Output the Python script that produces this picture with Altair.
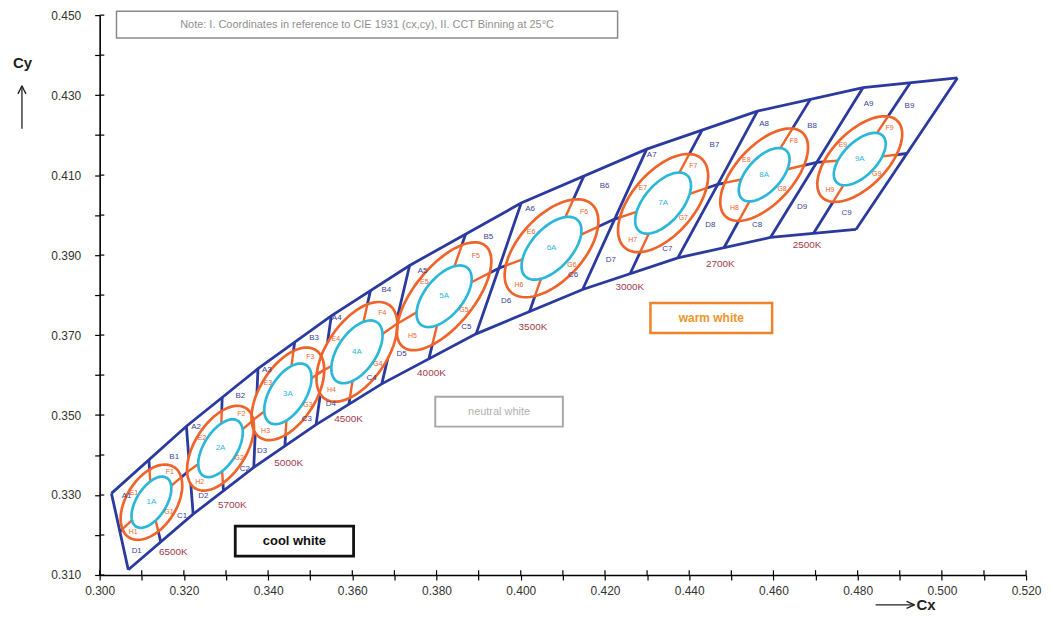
import numpy as np
import pandas as pd
import altair as alt

# ---------------- data ----------------
cct_names = ["6500K", "5700K", "5000K", "4500K", "4000K", "3500K", "3000K", "2700K", "2500K"]
bin_nums = [1, 2, 3, 4, 5, 6, 7, 8, 9]

# bin boundary isotherms (10 lines): top end, crossing with the centre line, bottom end
edge_top_x = [0.3028, 0.3206, 0.3376, 0.3550, 0.3736, 0.4001, 0.4299, 0.4562, 0.4813, 0.5037]
edge_top_y = [0.3304, 0.3472, 0.3616, 0.3748, 0.3874, 0.4030, 0.4165, 0.4260, 0.4319, 0.4343]
edge_mid_x = [0.3048, 0.3214, 0.3371, 0.3532, 0.3703, 0.3948, 0.4223, 0.4468, 0.4703, 0.4917]
edge_mid_y = [0.3209, 0.3362, 0.3493, 0.3612, 0.3726, 0.3867, 0.3990, 0.4077, 0.4132, 0.4154]
edge_bot_x = [0.3068, 0.3222, 0.3366, 0.3514, 0.3670, 0.3894, 0.4147, 0.4373, 0.4593, 0.4796]
edge_bot_y = [0.3113, 0.3252, 0.3369, 0.3476, 0.3578, 0.3703, 0.3814, 0.3893, 0.3944, 0.3964]

# bin centres and the dividing isotherm (A|B, D|C) of each bin
center_x = [0.3123, 0.3287, 0.3447, 0.3611, 0.3818, 0.4073, 0.4338, 0.4578, 0.4805]
center_y = [0.3282, 0.3417, 0.3553, 0.3658, 0.3797, 0.3917, 0.4030, 0.4101, 0.4140]
div_top_x = [0.3117, 0.3291, 0.3463, 0.3643, 0.3869, 0.4150, 0.4431, 0.4688, 0.4925]
div_top_y = [0.3388, 0.3544, 0.3682, 0.3811, 0.3952, 0.4098, 0.4213, 0.4290, 0.4331]
div_bot_x = [0.3145, 0.3294, 0.3440, 0.3592, 0.3782, 0.4021, 0.4260, 0.4483, 0.4695]
div_bot_y = [0.3183, 0.3311, 0.3423, 0.3527, 0.3641, 0.3759, 0.3854, 0.3919, 0.3954]

# ellipses (semi axes in CIE units, tilt in degrees)
orange_a = [0.0103, 0.0117, 0.0128, 0.0140, 0.0160, 0.0146, 0.0144, 0.0139, 0.0131]
orange_b = [0.0060, 0.0062, 0.0067, 0.0072, 0.0072, 0.0078, 0.0076, 0.0070, 0.0067]
cyan_a = [0.0071, 0.0080, 0.0084, 0.0088, 0.0090, 0.0094, 0.0090, 0.0080, 0.0080]
cyan_b = [0.0036, 0.0040, 0.0043, 0.0046, 0.0046, 0.0049, 0.0046, 0.0041, 0.0041]
ell_tilt = [60, 60, 60, 58, 53, 50, 52, 50, 48]

# sub-bin label positions
lab_A_x = [0.3064, 0.3229, 0.3397, 0.3563, 0.3767, 0.4022, 0.4311, 0.4578, 0.4826]
lab_A_y = [0.3297, 0.3469, 0.3613, 0.3743, 0.3860, 0.4014, 0.4151, 0.4228, 0.4278]
lab_B_x = [0.3177, 0.3334, 0.3509, 0.3681, 0.3923, 0.4199, 0.4460, 0.4692, 0.4923]
lab_B_y = [0.3394, 0.3548, 0.3693, 0.3812, 0.3944, 0.4072, 0.4176, 0.4223, 0.4273]
lab_C_x = [0.3196, 0.3345, 0.3492, 0.3646, 0.3871, 0.4124, 0.4348, 0.4561, 0.4774]
lab_C_y = [0.3248, 0.3365, 0.3491, 0.3593, 0.3720, 0.3850, 0.3915, 0.3974, 0.4004]
lab_D_x = [0.3088, 0.3246, 0.3386, 0.3549, 0.3717, 0.3965, 0.4214, 0.4450, 0.4668]
lab_D_y = [0.3160, 0.3297, 0.3411, 0.3528, 0.3653, 0.3785, 0.3887, 0.3974, 0.4019]

# CCT labels
cct_x = [0.3175, 0.3315, 0.3449, 0.3591, 0.3788, 0.4029, 0.4259, 0.4474, 0.4680]
cct_y = [0.3157, 0.3274, 0.3381, 0.3489, 0.3606, 0.3720, 0.3820, 0.3877, 0.3925]

# annotation boxes
box_text = ["Note: I. Coordinates in reference to CIE 1931 (cx,cy), II. CCT Binning at 25°C",
            "neutral white", "cool white", "warm white"]
box_x1 = [0.3040, 0.3797, 0.3322, 0.4308]
box_x2 = [0.4230, 0.4100, 0.3603, 0.4597]
box_y1 = [0.4510, 0.3546, 0.3222, 0.3780]
box_y2 = [0.4443, 0.3471, 0.3147, 0.3705]

x_ticks = [round(0.30 + 0.01 * i, 2) for i in range(23)]
y_ticks = [round(0.31 + 0.01 * i, 2) for i in range(15)]

# ---------------- styling ----------------
BLUE = "#2b3a9e"
ORANGE = "#ef642a"
CYAN = "#2bb8d8"
MAROON = "#a23a4c"
FONT = "Liberation Sans"

xs = alt.Scale(domain=[0.30, 0.52], nice=False, zero=False)
ys = alt.Scale(domain=[0.31, 0.45], nice=False, zero=False)

x_axis = alt.Axis(values=x_ticks, labelExpr="round(datum.value*100) % 2 == 0 ? format(datum.value, '.3f') : ''",
                  tickSize=5, tickWidth=1.2, tickColor="black", domainColor="black", domainWidth=1.6,
                  labelPadding=6, labelFont=FONT, labelFontSize=12, labelColor="#333", labelOverlap=False,
                  labelFlush=False, grid=False, title="Cx", titleFont=FONT, titleFontSize=15, titleFontWeight="bold",
                  titleColor="#222", titleAnchor="start", titleAlign="center", titleBaseline="middle",
                  titleX=829, titleY=30)
y_axis = alt.Axis(values=y_ticks, labelExpr="round(datum.value*100) % 2 == 1 ? format(datum.value, '.3f') : ''",
                  tickSize=5, tickWidth=1.2, tickColor="black", domainColor="black", domainWidth=1.6,
                  labelPadding=14, labelFont=FONT, labelFontSize=12, labelColor="#333", labelOverlap=False,
                  labelFlush=False, grid=False, title="Cy", titleFont=FONT, titleFontSize=15, titleFontWeight="bold",
                  titleColor="#222", titleAngle=0, titleAlign="center", titleBaseline="middle",
                  titleX=-78, titleY=48)


def X(f):
    return alt.X(f"{f}:Q", scale=xs, axis=x_axis)


def Y(f):
    return alt.Y(f"{f}:Q", scale=ys, axis=y_axis, stack=None)


# ---------------- build geometry tables ----------------
rows = []


def add_line(g, xx, yy):
    for i, (a, b) in enumerate(zip(xx, yy)):
        rows.append(dict(g=g, i=i, x=a, y=b))


add_line("top", edge_top_x, edge_top_y)
add_line("bot", edge_bot_x, edge_bot_y)
mx, my = [], []
for k in range(10):
    mx.append(edge_mid_x[k]); my.append(edge_mid_y[k])
    if k < 9:
        mx.append(center_x[k]); my.append(center_y[k])
add_line("mid", mx, my)
for k in range(10):
    add_line(f"e{k}", [edge_top_x[k], edge_mid_x[k], edge_bot_x[k]],
             [edge_top_y[k], edge_mid_y[k], edge_bot_y[k]])
for k in range(9):
    add_line(f"d{k}", [div_top_x[k], center_x[k], div_bot_x[k]],
             [div_top_y[k], center_y[k], div_bot_y[k]])
grid_df = pd.DataFrame(rows)


def outline(cx, cy, a, b, phi, n=90):
    p = np.radians(phi)
    c, s = np.cos(p), np.sin(p)
    t = np.linspace(0, 2 * np.pi, n)
    return cx + a * np.cos(t) * c - b * np.sin(t) * s, cy + a * np.cos(t) * s + b * np.sin(t) * c


def bounds(cx, cy, a, b, phi, n=80):
    p = np.radians(phi)
    c, s = np.cos(p), np.sin(p)
    A = c ** 2 / a ** 2 + s ** 2 / b ** 2
    B = 2 * c * s * (1 / a ** 2 - 1 / b ** 2)
    C = s ** 2 / a ** 2 + c ** 2 / b ** 2
    wx = np.sqrt(4 * C / (4 * A * C - B ** 2))
    dx = wx * np.cos(np.linspace(np.pi, 0, n))
    disc = np.clip(B ** 2 * dx ** 2 - 4 * C * (A * dx ** 2 - 1), 0, None)
    return cx + dx, cy + (-B * dx + np.sqrt(disc)) / (2 * C), cy + (-B * dx - np.sqrt(disc)) / (2 * C)


def ray(a, b, phi, dx, dy):
    p = np.radians(phi)
    c, s = np.cos(p), np.sin(p)
    u = c * dx + s * dy
    v = -s * dx + c * dy
    return 1.0 / np.sqrt((u / a) ** 2 + (v / b) ** 2)


fill_rows, o_rows, c_rows, tick_rows, ring_rows, ctr_rows = [], [], [], [], [], []
for k in range(9):
    cx, cy, ph = center_x[k], center_y[k], ell_tilt[k]
    bx, bu, bl = bounds(cx, cy, orange_a[k], orange_b[k], ph)
    for a, b, c in zip(bx, bu, bl):
        fill_rows.append(dict(g=k, x=a, yu=b, yl=c))
    ox, oy = outline(cx, cy, orange_a[k], orange_b[k], ph)
    for i, (a, b) in enumerate(zip(ox, oy)):
        o_rows.append(dict(g=k, i=i, x=a, y=b))
    qx, qy = outline(cx, cy, cyan_a[k], cyan_b[k], ph)
    for i, (a, b) in enumerate(zip(qx, qy)):
        c_rows.append(dict(g=k, i=i, x=a, y=b))
    targets = [(div_top_x[k], div_top_y[k]), (div_bot_x[k], div_bot_y[k]),
               (edge_mid_x[k], edge_mid_y[k]), (edge_mid_x[k + 1], edge_mid_y[k + 1])]
    for tx, ty in targets:
        dx, dy = tx - cx, ty - cy
        ti = ray(cyan_a[k], cyan_b[k], ph, dx, dy)
        to = ray(orange_a[k], orange_b[k], ph, dx, dy)
        tick_rows.append(dict(x=cx + ti * dx, y=cy + ti * dy, x2=cx + to * dx, y2=cy + to * dy))
    p = np.radians(ph)
    c, s = np.cos(p), np.sin(p)
    ma = (orange_a[k] + cyan_a[k]) / 2
    mb = (orange_b[k] + cyan_b[k]) / 2
    n = bin_nums[k]
    ring_rows += [
        dict(t=f"F{n}", x=cx + ma * c, y=cy + ma * s),
        dict(t=f"H{n}", x=cx - ma * c, y=cy - ma * s),
        dict(t=f"E{n}", x=cx - mb * s, y=cy + mb * c),
        dict(t=f"G{n}", x=cx + mb * s, y=cy - mb * c),
    ]
    ctr_rows.append(dict(t=f"{n}A", x=cx, y=cy))

fill_df = pd.DataFrame(fill_rows)
o_df = pd.DataFrame(o_rows)
c_df = pd.DataFrame(c_rows)
tick_df = pd.DataFrame(tick_rows)
ring_df = pd.DataFrame(ring_rows)
ctr_df = pd.DataFrame(ctr_rows)

quad_rows = []
for k in range(9):
    n = bin_nums[k]
    quad_rows += [dict(t=f"A{n}", x=lab_A_x[k], y=lab_A_y[k]), dict(t=f"B{n}", x=lab_B_x[k], y=lab_B_y[k]),
                  dict(t=f"C{n}", x=lab_C_x[k], y=lab_C_y[k]), dict(t=f"D{n}", x=lab_D_x[k], y=lab_D_y[k])]
quad_df = pd.DataFrame(quad_rows)
cct_df = pd.DataFrame(dict(t=cct_names, x=cct_x, y=cct_y))
box_df = pd.DataFrame(dict(t=box_text, x1=box_x1, x2=box_x2, y1=box_y1, y2=box_y2,
                           xm=[(a + b) / 2 for a, b in zip(box_x1, box_x2)],
                           ym=[(a + b) / 2 for a, b in zip(box_y1, box_y2)]))

# inward half of the crossing axis ticks
xin_df = pd.DataFrame(dict(x=x_ticks, y=[0.31] * len(x_ticks), y2=[0.3112] * len(x_ticks)))
yin_df = pd.DataFrame(dict(y=y_ticks, x=[0.30] * len(y_ticks), x2=[0.3011] * len(y_ticks)))
xin = alt.Chart(xin_df).mark_rule(color="black", strokeWidth=1.2).encode(
    x=X("x"), y=Y("y"), y2=alt.Y2("y2:Q"))
yin = alt.Chart(yin_df).mark_rule(color="black", strokeWidth=1.2).encode(
    x=X("x"), x2=alt.X2("x2:Q"), y=Y("y"))

grid = alt.Chart(grid_df).mark_line(color=BLUE, strokeWidth=2.8).encode(
    x=X("x"), y=Y("y"), detail="g:N", order="i:Q")
fill = alt.Chart(fill_df).mark_area(color="white", opacity=1).encode(
    x=X("x"), y=Y("yu"), y2=alt.Y2("yl:Q"), detail="g:N")
ticks = alt.Chart(tick_df).mark_rule(color=ORANGE, strokeWidth=2.4).encode(
    x=X("x"), y=Y("y"), x2=alt.X2("x2:Q"), y2=alt.Y2("y2:Q"))
orange = alt.Chart(o_df).mark_line(color=ORANGE, strokeWidth=2.7).encode(
    x=X("x"), y=Y("y"), detail="g:N", order="i:Q")
cyan = alt.Chart(c_df).mark_line(color=CYAN, strokeWidth=2.7).encode(
    x=X("x"), y=Y("y"), detail="g:N", order="i:Q")

ring_txt = alt.Chart(ring_df).mark_text(color=ORANGE, fontSize=7, font=FONT).encode(
    x=X("x"), y=Y("y"), text="t:N")
ctr_txt = alt.Chart(ctr_df).mark_text(color=CYAN, fontSize=8, font=FONT).encode(
    x=X("x"), y=Y("y"), text="t:N")
quad_txt = alt.Chart(quad_df).mark_text(color="#3a3f9c", fontSize=8, font=FONT).encode(
    x=X("x"), y=Y("y"), text="t:N")
cct_txt = alt.Chart(cct_df).mark_text(color=MAROON, fontSize=10, font=FONT).encode(
    x=X("x"), y=Y("y"), text="t:N")

box_stroke = ["#8a8a8a", "#a8a8a8", "#111111", "#f0822a"]
box_col = ["#909090", "#b0b0b0", "#111111", "#f0962a"]
box_size = [11, 11, 13, 12]
box_weight = ["normal", "normal", "bold", "bold"]
box_width = [1.5, 2.0, 2.8, 2.5]
boxes = []
for i in range(4):
    d = box_df.iloc[[i]]
    boxes.append(alt.Chart(d).mark_rect(fill="white", stroke=box_stroke[i], strokeWidth=box_width[i]).encode(
        x=X("x1"), x2=alt.X2("x2:Q"), y=Y("y1"), y2=alt.Y2("y2:Q")))
    boxes.append(alt.Chart(d).mark_text(color=box_col[i], fontSize=box_size[i], fontWeight=box_weight[i],
                                        font=FONT).encode(x=X("xm"), y=Y("ym"), text="t:N"))

one = pd.DataFrame({"a": [0]})
arrows = [
    alt.Chart(one).mark_rule(color="#222", strokeWidth=1.3).encode(
        x=alt.value(-78), y=alt.value(71), y2=alt.value(114)),
    alt.Chart(one).mark_rule(color="#222", strokeWidth=1.3).encode(
        x=alt.value(-78), y=alt.value(71), x2=alt.value(-82), y2=alt.value(79)),
    alt.Chart(one).mark_rule(color="#222", strokeWidth=1.3).encode(
        x=alt.value(-78), y=alt.value(71), x2=alt.value(-74), y2=alt.value(79)),
    alt.Chart(one).mark_rule(color="#222", strokeWidth=1.3).encode(
        x=alt.value(779), x2=alt.value(818), y=alt.value(592)),
    alt.Chart(one).mark_rule(color="#222", strokeWidth=1.3).encode(
        x=alt.value(818), y=alt.value(592), x2=alt.value(810), y2=alt.value(588.5)),
    alt.Chart(one).mark_rule(color="#222", strokeWidth=1.3).encode(
        x=alt.value(818), y=alt.value(592), x2=alt.value(810), y2=alt.value(595.5)),
]

chart = alt.layer(grid, fill, ticks, orange, cyan, ring_txt, ctr_txt, quad_txt, cct_txt, *boxes, xin, yin,
                  *arrows).properties(
    width=930, height=562,
    autosize=alt.AutoSizeParams(type="none"),
    padding={"left": 92, "top": 6, "right": 20, "bottom": 38},
    background="white",
).configure_view(stroke=None)

chart.save("out.html", embed_options={"renderer": "svg", "actions": False})
